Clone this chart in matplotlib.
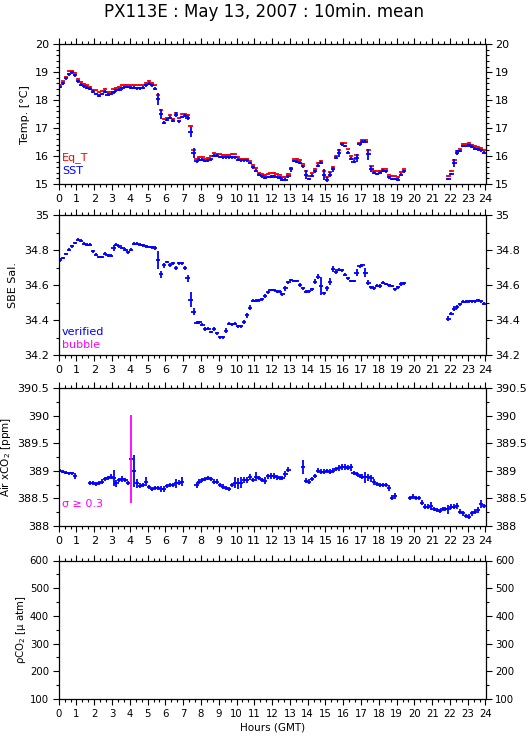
import numpy as np
import matplotlib
matplotlib.use("Agg")
import matplotlib.pyplot as plt
from matplotlib.ticker import MultipleLocator, FormatStrFormatter

plt.rcParams['font.family'] = ['DejaVu Sans']
plt.rcParams['mathtext.fontset'] = 'dejavusans'

nan = np.nan

# -- 10 minute means, 144 slots (0:00 .. 23:50 GMT)
hours = np.arange(144) / 6.0 + 1.0 / 12.0

# -- temperatures
sst = [18.47, 18.61, 18.79, 18.92, 19.00, 18.89, 18.67, 18.55, 18.50, 18.44, 18.41, 18.31,
       18.22, 18.16, 18.22, 18.31, 18.20, 18.22, 18.28, 18.35, 18.37, 18.43, 18.47, 18.47,
       18.44, 18.44, 18.43, 18.43, 18.45, 18.53, 18.59, 18.53, 18.41, 18.04, 17.50, 17.20,
       17.30, 17.38, 17.26, 17.48, 17.25, 17.40, 17.44, 17.38, 16.86, 16.11, 15.81, 15.87,
       15.87, 15.82, 15.85, 15.89, 16.01, 16.01, 15.97, 15.95, 15.95, 15.95, 15.95, 15.95,
       15.87, 15.85, 15.85, 15.85, 15.75, 15.60, 15.47, 15.33, 15.27, 15.22, 15.25, 15.26,
       15.28, 15.25, 15.23, 15.16, 15.16, 15.28, 15.52, 15.82, 15.80, 15.76, 15.64, 15.34,
       15.18, 15.30, 15.46, 15.66, 15.76, 15.34, 15.16, 15.34, 15.52, 15.94, 16.12, 16.42,
       16.36, 16.12, 15.90, 15.80, 15.94, 16.42, 16.51, 16.51, 16.06, 15.54, 15.40, 15.36,
       15.40, 15.48, 15.46, 15.24, 15.18, 15.18, 15.16, 15.34, 15.46, nan, nan, nan,
       nan, nan, nan, nan, nan, nan, nan, nan, nan, nan, nan, 15.18,
       15.36, 15.76, 16.12, 16.18, 16.36, 16.36, 16.39, 16.33, 16.27, 16.24, 16.20, 16.12]
sst_sd = [0.05, 0.05, 0.05, 0.05, 0.05, 0.05, 0.05, 0.05, 0.05, 0.05, 0.05, 0.05,
          0.05, 0.05, 0.05, 0.05, 0.05, 0.05, 0.05, 0.05, 0.05, 0.05, 0.05, 0.05,
          0.05, 0.05, 0.05, 0.05, 0.05, 0.05, 0.05, 0.05, 0.05, 0.20, 0.18, 0.05,
          0.05, 0.05, 0.05, 0.08, 0.05, 0.05, 0.05, 0.10, 0.18, 0.18, 0.05, 0.05,
          0.05, 0.05, 0.05, 0.05, 0.05, 0.05, 0.05, 0.05, 0.05, 0.05, 0.05, 0.05,
          0.05, 0.05, 0.05, 0.05, 0.05, 0.05, 0.05, 0.05, 0.05, 0.05, 0.05, 0.05,
          0.05, 0.05, 0.05, 0.05, 0.05, 0.05, 0.08, 0.05, 0.05, 0.05, 0.05, 0.17,
          0.05, 0.05, 0.05, 0.05, 0.05, 0.18, 0.08, 0.10, 0.08, 0.05, 0.15, 0.05,
          0.05, 0.05, 0.05, 0.05, 0.15, 0.05, 0.05, 0.05, 0.20, 0.10, 0.05, 0.05,
          0.05, 0.05, 0.05, 0.05, 0.05, 0.05, 0.05, 0.05, 0.05, nan, nan, nan,
          nan, nan, nan, nan, nan, nan, nan, nan, nan, nan, nan, 0.05,
          0.05, 0.15, 0.08, 0.05, 0.05, 0.05, 0.05, 0.05, 0.05, 0.05, 0.05, 0.05]
eq_t = [18.55, 18.67, 18.83, 19.03, 19.05, 18.99, 18.77, 18.65, 18.59, 18.53, 18.47, 18.38,
        18.35, 18.29, 18.32, 18.41, 18.29, 18.31, 18.41, 18.44, 18.47, 18.53, 18.56, 18.56,
        18.53, 18.53, 18.53, 18.53, 18.53, 18.62, 18.68, 18.61, 18.53, 18.19, 17.66, 17.32,
        17.37, 17.46, 17.34, 17.54, 17.37, 17.49, 17.52, 17.46, 17.08, 16.21, 15.89, 15.97,
        15.97, 15.91, 15.93, 16.01, 16.11, 16.09, 16.06, 16.05, 16.05, 16.05, 16.07, 16.06,
        15.97, 15.91, 15.91, 15.91, 15.81, 15.69, 15.57, 15.41, 15.35, 15.33, 15.36, 15.38,
        15.40, 15.37, 15.34, 15.25, 15.25, 15.37, 15.58, 15.88, 15.90, 15.86, 15.73, 15.46,
        15.28, 15.40, 15.54, 15.76, 15.83, 15.46, 15.24, 15.42, 15.61, 16.02, 16.20, 16.48,
        16.45, 16.24, 16.00, 15.88, 16.04, 16.48, 16.58, 16.58, 16.20, 15.64, 15.48, 15.45,
        15.48, 15.55, 15.55, 15.34, 15.28, 15.27, 15.24, 15.42, 15.52, nan, nan, nan,
        nan, nan, nan, nan, nan, nan, nan, nan, nan, nan, nan, 15.28,
        15.46, 15.86, 16.18, 16.24, 16.42, 16.42, 16.46, 16.41, 16.36, 16.33, 16.30, 16.22]

# -- salinity
sal = [34.744, 34.754, 34.777, 34.802, 34.821, 34.840, 34.860, 34.854, 34.835, 34.831, 34.831, 34.792,
       34.773, 34.760, 34.760, 34.779, 34.769, 34.767, 34.812, 34.831, 34.821, 34.812, 34.802, 34.787,
       34.802, 34.835, 34.837, 34.831, 34.827, 34.821, 34.817, 34.815, 34.812, 34.744, 34.662, 34.712,
       34.731, 34.715, 34.725, 34.696, 34.725, 34.725, 34.696, 34.638, 34.517, 34.446, 34.385, 34.388,
       34.373, 34.350, 34.350, 34.331, 34.350, 34.325, 34.302, 34.302, 34.340, 34.379, 34.375, 34.379,
       34.365, 34.363, 34.388, 34.427, 34.471, 34.510, 34.510, 34.513, 34.519, 34.538, 34.558, 34.571,
       34.571, 34.565, 34.562, 34.548, 34.581, 34.615, 34.629, 34.623, 34.623, 34.600, 34.581, 34.562,
       34.565, 34.575, 34.619, 34.648, 34.594, 34.552, 34.581, 34.619, 34.692, 34.677, 34.687, 34.683,
       34.658, 34.638, 34.623, 34.623, 34.671, 34.706, 34.712, 34.671, 34.613, 34.587, 34.581, 34.596,
       34.594, 34.613, 34.606, 34.598, 34.594, 34.575, 34.587, 34.606, 34.610, nan, nan, nan,
       nan, nan, nan, nan, nan, nan, nan, nan, nan, nan, nan, 34.408,
       34.437, 34.465, 34.475, 34.490, 34.504, 34.504, 34.508, 34.508, 34.508, 34.513, 34.508, 34.494]
sal_sd = [0.010, 0.008, 0.008, 0.008, 0.008, 0.008, 0.008, 0.008, 0.008, 0.008, 0.008, 0.010,
          0.008, 0.008, 0.008, 0.008, 0.008, 0.008, 0.015, 0.008, 0.008, 0.008, 0.008, 0.008,
          0.008, 0.008, 0.008, 0.008, 0.008, 0.008, 0.008, 0.008, 0.010, 0.050, 0.020, 0.015,
          0.008, 0.010, 0.008, 0.010, 0.008, 0.008, 0.010, 0.020, 0.045, 0.020, 0.008, 0.008,
          0.008, 0.010, 0.008, 0.008, 0.010, 0.008, 0.008, 0.008, 0.015, 0.008, 0.008, 0.008,
          0.008, 0.008, 0.010, 0.015, 0.015, 0.008, 0.008, 0.008, 0.008, 0.010, 0.008, 0.008,
          0.008, 0.008, 0.008, 0.008, 0.015, 0.008, 0.008, 0.008, 0.008, 0.010, 0.010, 0.008,
          0.008, 0.008, 0.015, 0.015, 0.050, 0.008, 0.015, 0.020, 0.015, 0.015, 0.008, 0.008,
          0.008, 0.008, 0.008, 0.008, 0.020, 0.008, 0.008, 0.025, 0.015, 0.008, 0.008, 0.008,
          0.010, 0.008, 0.008, 0.008, 0.008, 0.008, 0.008, 0.010, 0.008, nan, nan, nan,
          nan, nan, nan, nan, nan, nan, nan, nan, nan, nan, nan, 0.015,
          0.010, 0.015, 0.010, 0.008, 0.008, 0.008, 0.008, 0.008, 0.008, 0.008, 0.008, 0.008]

# -- air xCO2
xco2 = [389.005, 388.987, 388.968, 388.956, 388.956, 388.908, nan, nan, nan, nan, 388.775, 388.775,
        388.757, 388.775, 388.805, 388.847, 388.866, 388.896, 388.866, 388.775, 388.835, 388.853, 388.835, 388.775,
        389.210, 388.990, 388.775, 388.732, 388.745, 388.805, 388.702, 388.672, 388.684, 388.684, 388.672, 388.672,
        388.726, 388.745, 388.745, 388.775, 388.787, 388.805, nan, nan, nan, nan, 388.745, 388.805,
        388.835, 388.847, 388.866, 388.847, 388.805, 388.805, 388.745, 388.714, 388.684, 388.672, 388.745, 388.787,
        388.775, 388.787, 388.835, 388.835, 388.884, 388.835, 388.896, 388.866, 388.830, 388.820, 388.900, 388.910,
        388.910, 388.880, 388.870, 388.870, 388.940, 389.020, nan, nan, nan, nan, 389.070, 388.823,
        388.805, 388.847, 388.908, 389.005, 388.987, 388.987, 388.999, 388.987, 389.005, 389.035, 389.053, 389.065,
        389.065, 389.059, 389.065, 388.956, 388.938, 388.908, 388.896, 388.884, 388.884, 388.866, 388.793, 388.757,
        388.745, 388.745, 388.745, 388.684, 388.515, 388.545, nan, nan, nan, nan, 388.502, 388.533,
        388.502, 388.502, 388.424, 388.351, 388.351, 388.363, 388.303, 388.290, 388.272, 388.303, 388.303, 388.303,
        388.351, 388.351, 388.363, 388.260, 388.230, 388.180, 388.170, 388.230, 388.260, 388.290, 388.400, 388.363]
xco2_sd = [0.03, 0.03, 0.03, 0.03, 0.03, 0.05, nan, nan, nan, nan, 0.04, 0.04,
           0.04, 0.04, 0.04, 0.04, 0.04, 0.05, 0.15, 0.06, 0.04, 0.06, 0.04, 0.04,
           0.80, 0.29, 0.08, 0.04, 0.04, 0.08, 0.04, 0.04, 0.04, 0.04, 0.05, 0.06,
           0.04, 0.04, 0.04, 0.08, 0.04, 0.08, nan, nan, nan, nan, 0.05, 0.05,
           0.04, 0.04, 0.04, 0.04, 0.05, 0.05, 0.04, 0.04, 0.04, 0.04, 0.04, 0.10,
           0.10, 0.10, 0.05, 0.05, 0.05, 0.04, 0.08, 0.04, 0.04, 0.06, 0.05, 0.05,
           0.05, 0.04, 0.04, 0.04, 0.05, 0.04, nan, nan, nan, nan, 0.12, 0.04,
           0.04, 0.04, 0.04, 0.04, 0.04, 0.04, 0.04, 0.04, 0.04, 0.04, 0.05, 0.05,
           0.05, 0.05, 0.06, 0.04, 0.04, 0.04, 0.04, 0.10, 0.06, 0.06, 0.05, 0.04,
           0.04, 0.04, 0.04, 0.05, 0.05, 0.05, nan, nan, nan, nan, 0.04, 0.04,
           0.04, 0.04, 0.05, 0.05, 0.04, 0.08, 0.04, 0.04, 0.04, 0.04, 0.04, 0.08,
           0.04, 0.05, 0.05, 0.04, 0.05, 0.04, 0.05, 0.04, 0.04, 0.05, 0.08, 0.04]

hour_ticks = list(range(25))

W, H = 529.0, 739.0
fig = plt.figure(figsize=(W / 100, H / 100), dpi=100)

def make_ax(top, bottom):
    return fig.add_axes([58.7 / W, 1 - bottom / H, 426.8 / W, (bottom - top) / H])

def style(ax, lo, hi, major, minor, fmt, fs):
    ax.set_xlim(0, 24)
    ax.set_ylim(lo, hi)
    ax.set_xticks(hour_ticks)
    ax.xaxis.set_minor_locator(MultipleLocator(1.0 / 3))
    ax.yaxis.set_major_locator(MultipleLocator(major))
    ax.yaxis.set_minor_locator(MultipleLocator(minor))
    ax.yaxis.set_major_formatter(FormatStrFormatter(fmt))
    ax.tick_params(which="both", direction="out", top=True, right=True,
                   labelright=True, width=0.8, labelsize=fs, pad=3)
    ax.tick_params(which="major", length=4)
    ax.tick_params(which="minor", length=2)
    for s in ax.spines.values():
        s.set_linewidth(0.9)

xw = 0.12
ekw = dict(fmt="none", elinewidth=1.3, capsize=0)

# -- panel 1: temperature
ax1 = make_ax(44.3, 184)
ax1.errorbar(hours, eq_t, xerr=xw, yerr=0.03, ecolor="red", **ekw)
ax1.errorbar(hours, sst, xerr=xw, yerr=sst_sd, ecolor="blue", **ekw)
style(ax1, 15, 20, 1, 0.2, "%g", 8)
ax1.set_ylabel("Temp. [\u00b0C]", fontsize=8)
ax1.yaxis.set_label_coords(-0.067, 0.5)
ax1.text(0.008, 0.19, "Eq_T", color="red", fontsize=8, transform=ax1.transAxes, va="center")
ax1.text(0.008, 0.09, "SST", color="blue", fontsize=8, transform=ax1.transAxes, va="center")

# -- panel 2: salinity
ax2 = make_ax(215, 355)
ax2.errorbar(hours, sal, xerr=xw, yerr=sal_sd, ecolor="blue", **ekw)
style(ax2, 34.2, 35, 0.2, 0.1, "%g", 8)
ax2.set_ylabel("SBE Sal.", fontsize=8)
ax2.yaxis.set_label_coords(-0.095, 0.5)
ax2.text(0.008, 0.165, "verified", color="blue", fontsize=8, transform=ax2.transAxes, va="center")
ax2.text(0.008, 0.072, "bubble", color="magenta", fontsize=8, transform=ax2.transAxes, va="center")

# -- panel 3: air xCO2, flag sigma >= 0.3
ax3 = make_ax(388, 526)
sd = np.array(xco2_sd)
big = sd >= 0.3
ax3.errorbar(hours, xco2, xerr=xw, yerr=np.where(big, 0, sd), ecolor="blue", **ekw)
ax3.errorbar(hours[big], np.array(xco2)[big], yerr=sd[big], ecolor="magenta", **ekw)
style(ax3, 388, 390.5, 0.5, 0.25, "%g", 8)
ax3.set_ylabel("Air xCO$_2$ [ppm]", fontsize=7.5)
ax3.yaxis.set_label_coords(-0.107, 0.5)
ax3.text(0.008, 0.157, "\u03c3 \u2265 0.3", color="magenta", fontsize=8,
         transform=ax3.transAxes, va="center")

# -- panel 4: pCO2 (no data)
ax4 = make_ax(560.5, 699)
style(ax4, 100, 600, 100, 50, "%g", 7.3)
ax4.set_ylabel("\u03c1CO$_2$ [\u03bc atm]", fontsize=7.3)
ax4.yaxis.set_label_coords(-0.072, 0.5)
ax4.set_xlabel("Hours (GMT)", fontsize=7.5, labelpad=3)

fig.text(0.5, 1 - 17.0 / H, "PX113E : May 13, 2007 : 10min. mean",
         ha="center", va="baseline", fontsize=12)

fig.savefig("out.png", dpi=100)
